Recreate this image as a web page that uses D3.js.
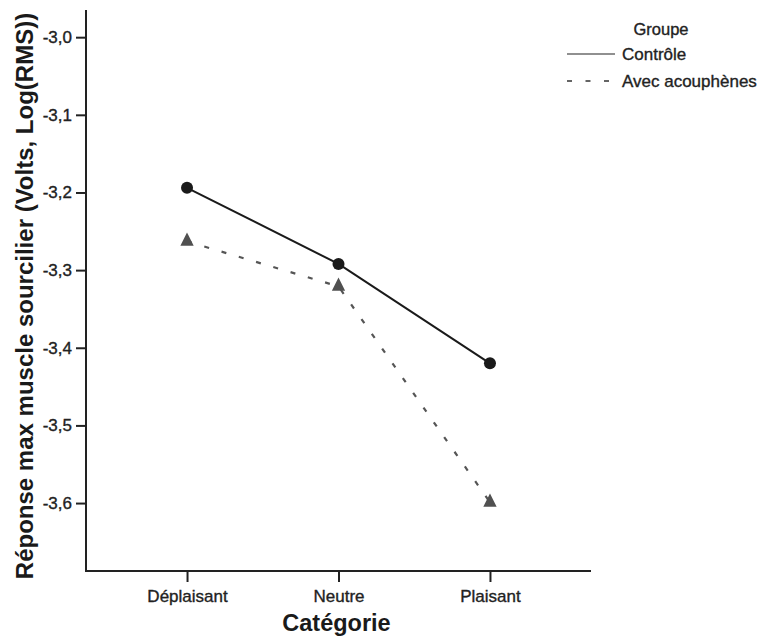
<!DOCTYPE html>
<html>
<head>
<meta charset="utf-8">
<script src="https://cdn.jsdelivr.net/npm/d3@7"></script>
<style>
  html, body { margin: 0; padding: 0; background: #fff; }
  svg { display: block; font-family: "Liberation Sans", Arial, sans-serif; }
  .lbl { stroke: #222; stroke-width: 0.35px; fill: #222; }
</style>
</head>
<body>
<svg id="chart" width="760" height="639"></svg>
<script>
// Catégories affichées sur l'axe X
const categories = ["Déplaisant", "Neutre", "Plaisant"];
// Réponse moyenne par groupe (Log(RMS))
const controle = [-3.194, -3.292, -3.420];
const acouphenes = [-3.263, -3.321, -3.599];
// Graduations de l'axe Y
const yTicks = [-3.0, -3.1, -3.2, -3.3, -3.4, -3.5, -3.6];
const groups = ["Contrôle", "Avec acouphènes"];

const svg = d3.select("#chart");
const plotLeft = 86, plotRight = 591, plotTop = 10, plotBottom = 571;

const x = d3.scalePoint().domain(categories).range([plotLeft, plotRight]).padding(0.667);
const y = d3.scaleLinear().domain([-3.6875, -2.965]).range([plotBottom, plotTop]);

const fmt = v => d3.format(".1f")(v).replace(".", ",").replace("−", "-");

// Axe Y
const yAxis = svg.append("g")
  .attr("transform", `translate(${plotLeft},0)`)
  .call(d3.axisLeft(y).tickValues(yTicks).tickSize(10).tickPadding(4).tickFormat(fmt));
yAxis.select(".domain").attr("d", `M0,${plotTop}V${plotBottom}`).attr("stroke", "#222").attr("stroke-width", 2);
yAxis.selectAll(".tick line").attr("stroke", "#222").attr("stroke-width", 2);
yAxis.selectAll(".tick text").attr("class", "lbl").attr("font-size", 17)
  .attr("font-family", "Liberation Sans, Arial, sans-serif");

// Axe X
const xAxis = svg.append("g")
  .attr("transform", `translate(0,${plotBottom})`)
  .call(d3.axisBottom(x).tickSize(11).tickPadding(8));
xAxis.select(".domain").attr("d", `M${plotLeft - 1},0H${plotRight}`).attr("stroke", "#222").attr("stroke-width", 2);
xAxis.selectAll(".tick line").attr("stroke", "#222").attr("stroke-width", 2);
xAxis.selectAll(".tick text").attr("class", "lbl").attr("font-size", 17)
  .attr("font-family", "Liberation Sans, Arial, sans-serif");

// Titres des axes
svg.append("text")
  .attr("x", (plotLeft + plotRight) / 2 - 2).attr("y", 631)
  .attr("text-anchor", "middle").attr("font-weight", "bold").attr("font-size", 23.5)
  .attr("fill", "#1a1a1a").text("Catégorie");

svg.append("text")
  .attr("transform", "translate(33,296) rotate(-90)")
  .attr("text-anchor", "middle").attr("font-weight", "bold").attr("font-size", 24)
  .attr("fill", "#1a1a1a").text("Réponse max muscle sourcilier (Volts, Log(RMS))");

// Lignes des groupes
const line = d3.line().x((d, i) => x(categories[i])).y(d => y(d));

svg.append("path").datum(acouphenes)
  .attr("d", line).attr("fill", "none")
  .attr("stroke", "#555").attr("stroke-width", 2.2).attr("stroke-dasharray", "5,13");

svg.append("path").datum(controle)
  .attr("d", line).attr("fill", "none")
  .attr("stroke", "#1a1a1a").attr("stroke-width", 2);

// Marqueurs
svg.selectAll(".pt-c").data(controle).enter().append("circle")
  .attr("class", "pt-c")
  .attr("cx", (d, i) => x(categories[i])).attr("cy", d => y(d))
  .attr("r", 6).attr("fill", "#1a1a1a");

const tri = d3.symbol().type(d3.symbolTriangle).size(85);
svg.selectAll(".pt-a").data(acouphenes).enter().append("path")
  .attr("class", "pt-a")
  .attr("transform", (d, i) => `translate(${x(categories[i])},${y(d)}) scale(0.95,1.1)`)
  .attr("d", tri).attr("fill", "#505050");

// Légende
const legend = svg.append("g");
legend.append("text").attr("x", 661).attr("y", 35).attr("text-anchor", "middle")
  .attr("class", "lbl").attr("font-size", 16.5).text("Groupe");
legend.append("line").attr("x1", 567).attr("x2", 615).attr("y1", 54).attr("y2", 54)
  .attr("stroke", "#222").attr("stroke-width", 1.2);
legend.append("text").attr("x", 622).attr("y", 60)
  .attr("class", "lbl").attr("font-size", 17).text(groups[0]);
legend.append("line").attr("x1", 567).attr("x2", 615).attr("y1", 81).attr("y2", 81)
  .attr("stroke", "#333").attr("stroke-width", 1.6).attr("stroke-dasharray", "5,13.5");
legend.append("text").attr("x", 622).attr("y", 87)
  .attr("class", "lbl").attr("font-size", 17).text(groups[1]);
</script>
</body>
</html>
